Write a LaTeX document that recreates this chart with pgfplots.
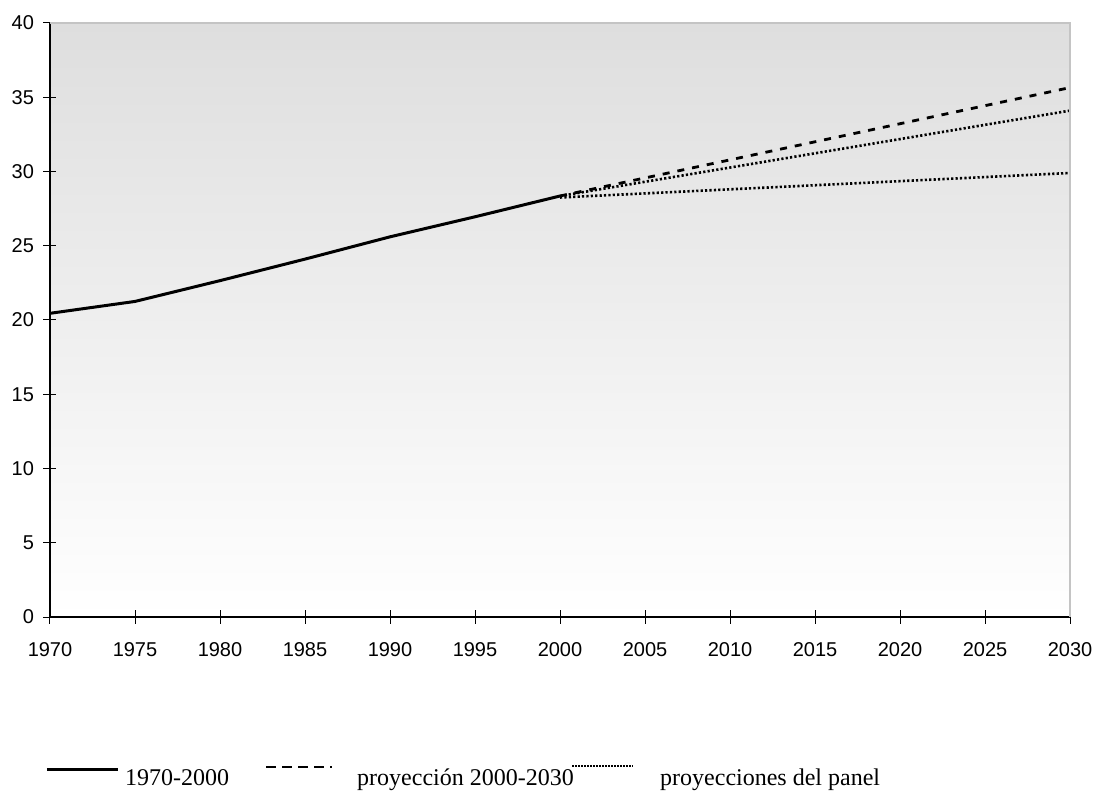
\documentclass[border=0pt]{standalone}
\usepackage{pgfplots}
\pgfplotsset{compat=1.18}
\usepackage{fontspec}
\setmainfont{Liberation Serif}
\newfontfamily\arial{Liberation Sans}
\definecolor{bgtop}{HTML}{DEDEDE}
\definecolor{frame}{HTML}{C4C4C4}

\begin{document}
\begin{tikzpicture}[x=1pt,y=1pt]
\path[use as bounding box] (-50,-173) rectangle (1045,617);
\begin{axis}[
  at={(0,0)}, anchor=south west,
  scale only axis,
  width=1020pt, height=594pt,
  xmin=1970, xmax=2030,
  ymin=0, ymax=40,
  xtick={1970,1975,...,2030},
  ytick={0,5,...,40},
  axis x line*=bottom,
  axis y line*=left,
  axis line style={black, line width=1.3pt, -},
  tick align=center,
  major tick length=13pt,
  tick style={black, line width=1pt},
  ticklabel style={font=\arial\fontsize{20}{20}\selectfont},
  /pgf/number format/assume math mode=true,
  /pgf/number format/1000 sep={},
  xticklabel style={yshift=-15pt},
  yticklabel style={xshift=-6pt},
  axis background/.style={shade, top color=bgtop, bottom color=white},
  clip=false,
]
% 1970-2000
\addplot[black, line width=3pt] coordinates {
  (1970,20.45) (1975,21.25) (1980,22.65) (1985,24.1) (1990,25.6) (1995,26.95) (2000,28.35)
};
% proyeccion 2000-2030
\addplot[black, line width=2.8pt, dash pattern=on 7pt off 8pt] coordinates {
  (2000,28.35) (2030,35.65)
};
% proyecciones del panel
\addplot[black, line width=2.6pt, dash pattern=on 2.2pt off 2.2pt] coordinates {
  (2000,28.35) (2030,34.1)
};
\addplot[black, line width=2.6pt, dash pattern=on 2.2pt off 2.2pt] coordinates {
  (2000,28.25) (2030,29.9)
};
\draw[frame, line width=2pt] (rel axis cs:0,1) -- (rel axis cs:1,1) -- (rel axis cs:1,0);
\end{axis}
% legend
\draw[black, line width=3pt] (-3,-152) -- (68,-152);
\node[anchor=base west, inner sep=0pt, font=\fontsize{24}{24}\selectfont] at (75,-168) {1970-2000};
\draw[black, line width=2.8pt, dash pattern=on 10pt off 6pt] (216,-150) -- (282,-150);
\node[anchor=base west, inner sep=0pt, font=\fontsize{24}{24}\selectfont] at (307,-168) {proyección 2000-2030};
\draw[black, line width=1.6pt, dash pattern=on 1.6pt off 1.4pt] (522,-149) -- (583,-149);
\node[anchor=base west, inner sep=0pt, font=\fontsize{24}{24}\selectfont] at (610,-168) {proyecciones del panel};
\end{tikzpicture}
\end{document}
